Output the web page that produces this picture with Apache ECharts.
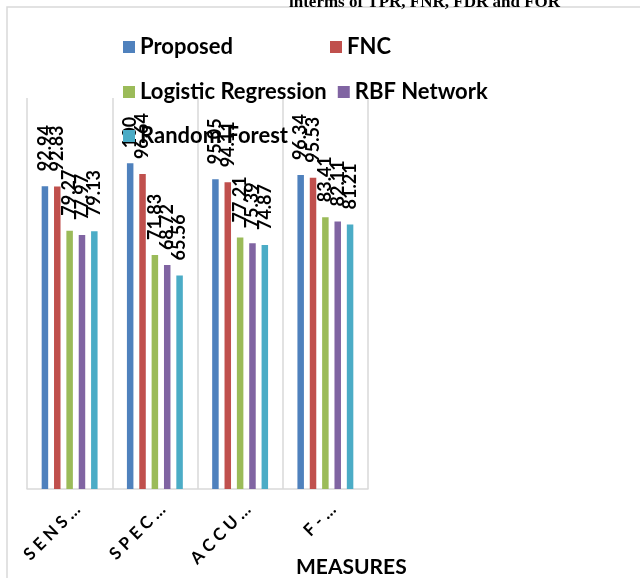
<!DOCTYPE html>
<html>
<head>
<meta charset="utf-8">
<style>
  html, body { margin: 0; padding: 0; background: #fff; }
  #main { width: 640px; height: 578px; }
</style>
<script src="https://cdn.jsdelivr.net/npm/echarts@6/dist/echarts.min.js"></script>
</head>
<body>
<div id="main"></div>
<script>
// 类别（轴上被截断的标签）
var categories = ['SENS\u2026', 'SPEC\u2026', 'ACCU\u2026', 'F-\u2026'];
var seriesNames = ['Proposed', 'FNC', 'Logistic Regression', 'RBF Network', 'Random Forest'];
var proposed = [92.94, 100, 95.05, 96.34];
var fnc = [92.83, 96.64, 94.11, 95.53];
var logistic = [79.27, 71.83, 77.21, 83.41];
var rbf = [77.97, 68.72, 75.39, 82.11];
var randomForest = [79.13, 65.56, 74.87, 81.21];
var colors = ['#4F81BD', '#C0504D', '#9BBB59', '#8064A2', '#4BACC6'];

var FONT = 'Lato';
var chart = echarts.init(document.getElementById('main'));

// 字母间距（Excel 的标签是拉开的）
function spaced(s) {
  return s.split('').join('\u2009\u2009');
}

var dataList = [proposed, fnc, logistic, rbf, randomForest];
var series = [];
for (var i = 0; i < dataList.length; i++) {
  series.push({
    name: seriesNames[i],
    type: 'bar',
    data: dataList[i],
    barWidth: 6.5,
    barGap: '90%',
    itemStyle: { color: colors[i] },
    label: {
      show: true,
      position: 'top',
      rotate: 90,
      align: 'left',
      verticalAlign: 'middle',
      distance: 15,
      color: '#000',
      fontFamily: FONT,
      fontWeight: 'bold',
      fontSize: 18
    }
  });
}

var legendText = { fontFamily: FONT, fontWeight: 'bold', fontSize: 22, color: '#000' };

var option = {
  animation: false,
  title: [{
    text: 'interms of TPR, FNR, FDR and FOR',
    left: 284,
    top: -11,
    textStyle: { fontFamily: 'Liberation Serif', fontWeight: 'bold', fontSize: 17, color: '#000' }
  }, {
    text: 'MEASURES',
    left: 291,
    top: 552,
    textStyle: { fontFamily: FONT, fontWeight: 'bold', fontSize: 21, color: '#000' }
  }],
  graphic: [{
    type: 'rect',
    shape: { x: 7, y: 7, width: 700, height: 700 },
    style: { fill: 'none', stroke: '#d9d9d9', lineWidth: 1.5 },
    z: -1
  }],
  legend: [{
    data: ['Proposed', 'FNC'],
    left: 118, top: 31, itemGap: 97,
    icon: 'rect', itemWidth: 12, itemHeight: 12,
    textStyle: legendText
  }, {
    data: ['Logistic Regression', 'RBF Network'],
    left: 118, top: 76, itemGap: 11,
    icon: 'rect', itemWidth: 12, itemHeight: 12,
    textStyle: legendText
  }, {
    data: ['Random Forest'],
    left: 118, top: 120,
    icon: 'rect', itemWidth: 12, itemHeight: 12,
    textStyle: legendText
  }],
  grid: { left: 27, right: 272, top: 98, bottom: 89 },
  xAxis: {
    type: 'category',
    data: categories,
    axisTick: { show: false },
    axisLine: { lineStyle: { color: '#d9d9d9', width: 1.5 } },
    splitLine: { show: true, lineStyle: { color: '#d9d9d9', width: 1.5 } },
    axisLabel: {
      rotate: 45,
      margin: 10,
      color: '#000',
      fontFamily: FONT,
      fontWeight: 'bold',
      fontSize: 17,
      verticalAlign: 'top',
      lineHeight: 22,
      formatter: function (v) { return spaced(v); }
    }
  },
  yAxis: {
    type: 'value',
    min: 0,
    max: 120,
    show: false
  },
  series: series
};
chart.setOption(option);
</script>
</body>
</html>
